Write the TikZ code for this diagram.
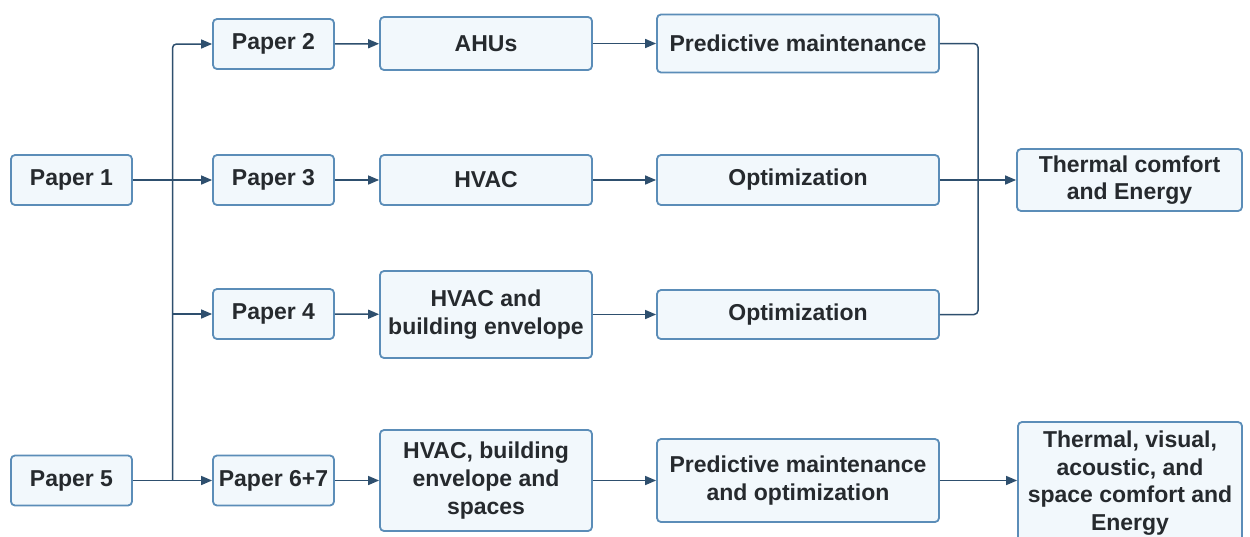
\documentclass[tikz,border=0pt]{standalone}
\usepackage{fontspec}
\setmainfont{Liberation Sans}
\usetikzlibrary{arrows.meta}
\definecolor{boxline}{HTML}{5B8DB8}
\definecolor{boxfill}{HTML}{F2F8FC}
\definecolor{wire}{HTML}{2E4F6E}
\definecolor{ink}{HTML}{262A2E}
\tikzset{
  card/.style={draw=boxline, fill=boxfill, line width=1.8pt, rounded corners=4pt,
    inner sep=0pt, align=center, text=ink,
    font=\fontsize{23}{27.6}\selectfont\bfseries},
  wireline/.style={draw=wire, line width=1.5pt, rounded corners=4pt},
  feed/.style={wireline, -{Triangle[length=11pt,width=9pt]}},
}
\begin{document}
\begin{tikzpicture}[x=1pt, y=-1pt]
\useasboundingbox (0,0) rectangle (1250,536);
\clip (0,0) rectangle (1250,536);
\fill[white] (0,0) rectangle (1250,536);

% first column: source papers
\node[card, minimum width=121pt, minimum height=50pt] (p1) at (71.5,180) {Paper 1};
\node[card, minimum width=121pt, minimum height=50pt] (p5) at (71.5,480.5) {Paper 5};

% second column: follow-up papers
\node[card, minimum width=121pt, minimum height=50pt] (p2) at (273.5,44) {Paper 2};
\node[card, minimum width=121pt, minimum height=50pt] (p3) at (273.5,180) {Paper 3};
\node[card, minimum width=121pt, minimum height=50pt] (p4) at (273.5,314) {Paper 4};
\node[card, minimum width=121pt, minimum height=50pt] (p67) at (273.5,480.5) {Paper 6+7};

% third column: systems studied
\node[card, minimum width=212pt, minimum height=53pt] (ahu) at (486,43.5) {AHUs};
\node[card, minimum width=212pt, minimum height=50pt] (hvac) at (486,180) {HVAC};
\node[card, minimum width=212pt, minimum height=87pt] (hbe) at (486,314.5) {HVAC and\\building envelope};
\node[card, minimum width=212pt, minimum height=101pt] (hbes) at (486,480.5) {HVAC, building\\envelope and\\spaces};

% fourth column: methods
\node[card, minimum width=282pt, minimum height=58pt] (pm) at (798,43.5) {Predictive maintenance};
\node[card, minimum width=282pt, minimum height=50pt] (opt3) at (798,180) {Optimization};
\node[card, minimum width=282pt, minimum height=49pt] (opt4) at (798,314.5) {Optimization};
\node[card, minimum width=282pt, minimum height=83pt] (pmo) at (798,480.5) {Predictive maintenance\\and optimization};

% last column: outcomes
\node[card, minimum width=225pt, minimum height=62pt] (tc) at (1129.5,180) {Thermal comfort\\and Energy};
\node[card, minimum width=224pt, minimum height=122pt] (tv) at (1130,483) {Thermal, visual,\\acoustic, and\\space comfort and\\Energy};

% bus lines
\coordinate (busL) at (172.5,0);
\coordinate (busR) at (978,0);

% left fan-out
\draw[feed] (p1.east) -- (p3.west);
\draw[feed] (p5.east) -- (p67.west);
\draw[feed] (p67.west -| busL) |- (p2.west);
\draw[feed] (p4.west -| busL) -- (p4.west);

% papers to systems
\draw[feed] (p2) -- (ahu);
\draw[feed] (p3) -- (hvac);
\draw[feed] (p4) -- (hbe);
\draw[feed] (p67) -- (hbes);

% systems to methods
\draw[feed] (ahu.east) -- (ahu.east -| pm.west);
\draw[feed] (hvac) -- (opt3);
\draw[feed] (hbe) -- (opt4);
\draw[feed] (hbes) -- (pmo);

% methods to outcomes
\draw[wireline] (pm.east) -| (busR |- opt3.east);
\draw[wireline] (opt4.east) -| (busR |- opt3.east);
\draw[feed] (opt3) -- (tc);
\draw[feed] (pmo.east) -- (pmo.east -| tv.west);
\end{tikzpicture}
\end{document}
